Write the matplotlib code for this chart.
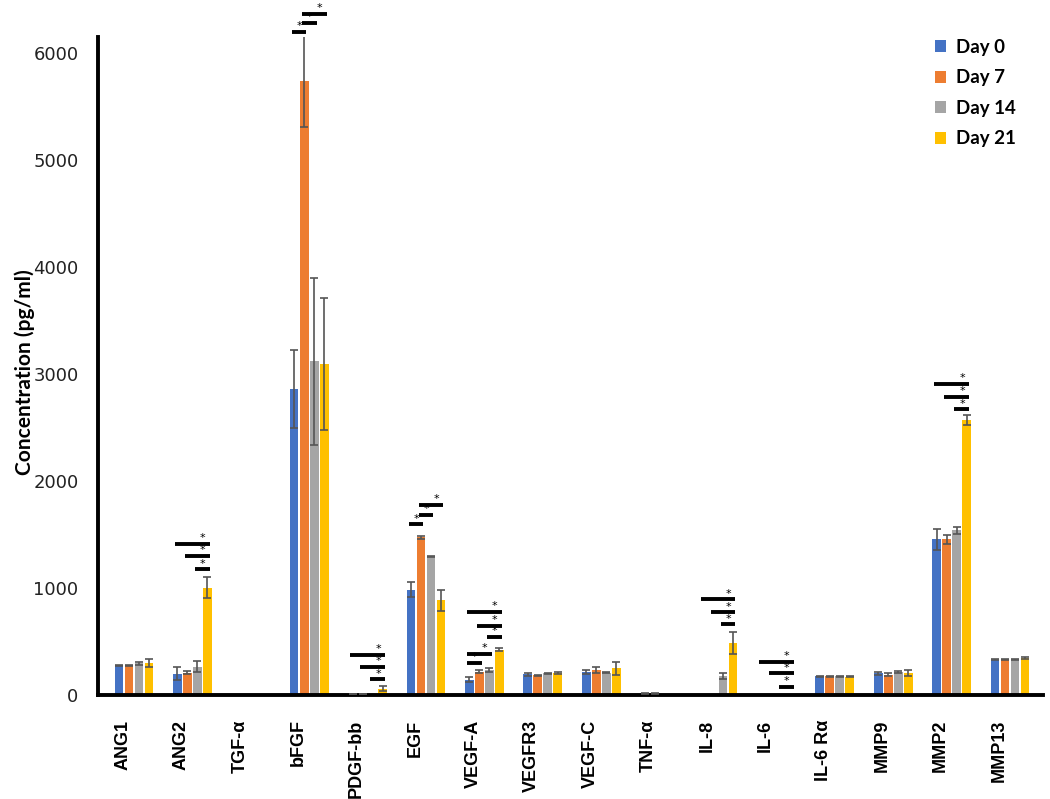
import numpy as np
import matplotlib.pyplot as plt
import matplotlib.transforms as mtransforms
from matplotlib.patches import Patch

# data
categories = ['ANG1', 'ANG2', 'TGF-α', 'bFGF', 'PDGF-bb', 'EGF', 'VEGF-A', 'VEGFR3',
              'VEGF-C', 'TNF-α', 'IL-8', 'IL-6', 'IL-6 Rα', 'MMP9', 'MMP2', 'MMP13']
series_names = ['Day 0', 'Day 7', 'Day 14', 'Day 21']

day0 = [275, 195, 0, 2860, 5, 980, 140, 188, 210, 10, 0, 0, 172, 200, 1450, 325]
day7 = [275, 205, 0, 5740, 5, 1470, 213, 182, 230, 10, 0, 0, 172, 185, 1450, 330]
day14 = [290, 260, 0, 3115, 0, 1290, 230, 198, 205, 0, 172, 0, 172, 207, 1535, 325]
day21 = [295, 1000, 0, 3090, 55, 880, 420, 198, 245, 0, 480, 0, 168, 200, 2565, 340]

err0 = [5, 60, 0, 365, 0, 70, 20, 15, 15, 3, 0, 0, 5, 15, 100, 5]
err7 = [5, 15, 0, 430, 0, 15, 15, 5, 30, 3, 0, 0, 5, 15, 45, 5]
err14 = [15, 50, 0, 785, 0, 5, 15, 5, 5, 0, 25, 0, 5, 10, 35, 5]
err21 = [40, 95, 0, 620, 25, 100, 15, 10, 60, 0, 100, 0, 5, 30, 45, 10]

# significance lines: (category, from series, to series, height)
brackets = [
    (1, 0, 3, 1408), (1, 1, 3, 1296), (1, 2, 3, 1171),
    (3, 0, 1, 6200), (3, 1, 2, 6284), (3, 1, 3, 6367),
    (4, 0, 3, 370), (4, 1, 3, 260), (4, 2, 3, 142),
    (5, 0, 1, 1592), (5, 1, 2, 1679), (5, 1, 3, 1773),
    (6, 0, 1, 298), (6, 0, 2, 379), (6, 0, 3, 775), (6, 1, 3, 644), (6, 2, 3, 541),
    (10, 0, 3, 890), (10, 1, 3, 769), (10, 2, 3, 657),
    (11, 0, 3, 307), (11, 1, 3, 198), (11, 2, 3, 73),
    (14, 0, 3, 2905), (14, 1, 3, 2786), (14, 2, 3, 2668),
]

colors = ['#4472C4', '#ED7D31', '#A5A5A5', '#FFC000']
values = [day0, day7, day14, day21]
errors = [err0, err7, err14, err21]

fig = plt.figure(figsize=(10.5, 7.99), dpi=100)
ax = fig.add_axes([98 / 1050, 1 - 694.5 / 799, (1043 - 98) / 1050, (694.5 - 37) / 799])

x = np.arange(len(categories))
step = 0.172
width = 0.15
for k in range(4):
    xs = x + (k - 1.5) * step
    v = np.array(values[k], dtype=float)
    e = np.array(errors[k], dtype=float)
    ax.bar(xs, v, width=width, color=colors[k], zorder=2)
    m = v > 0
    ax.errorbar(xs[m], v[m], yerr=e[m], fmt='none', ecolor='#555555',
                elinewidth=1.2, capsize=3, capthick=1.2, zorder=3)

# significance bars with stars
for c, a, b, h in brackets:
    x0 = c + (a - 1.5) * step - 0.04
    x1 = c + (b - 1.5) * step + 0.04
    ax.plot([x0, x1], [h, h], color='black', lw=2.8, solid_capstyle='butt',
            clip_on=False, zorder=4)
    xs = x1 - min((x1 - x0) / 2, 0.12)
    ax.annotate('*', (xs, h), xytext=(0, 0.5), textcoords='offset points',
                ha='center', va='bottom', fontsize=8, annotation_clip=False)

ax.set_xlim(-0.616, 15.565)
ax.set_ylim(0, 6150)
ax.set_yticks([0, 1000, 2000, 3000, 4000, 5000, 6000])
ax.set_xticks(x)
ax.set_xticklabels(categories, rotation=90, fontsize=13, fontweight='bold',
                   family='Liberation Sans')
ax.tick_params(axis='both', length=0)
ax.tick_params(axis='x', pad=18)
ax.tick_params(axis='y', pad=14, labelsize=13)
shift = mtransforms.ScaledTranslation(-11 / 100, 0, fig.dpi_scale_trans)
for lab in ax.get_xticklabels():
    lab.set_transform(lab.get_transform() + shift)
for lab in ax.get_yticklabels():
    lab.set_family('DejaVu Sans')
    lab.set_color('#222222')

for s in ['top', 'right']:
    ax.spines[s].set_visible(False)
for s in ['left', 'bottom']:
    ax.spines[s].set_linewidth(2.8)
    ax.spines[s].set_color('black')

ax.set_ylabel('Concentration (pg/ml)', fontsize=15, fontweight='bold', family='Lato')
ax.yaxis.set_label_coords(-63 / 945, 0.49)

handles = [Patch(facecolor=colors[k], label=series_names[k]) for k in range(4)]
fig.legend(handles=handles, loc='upper left', bbox_to_anchor=(918 / 1050, 1 - 22 / 799),
           frameon=False, handlelength=0.6, handleheight=0.6, handletextpad=0.5,
           labelspacing=0.72, prop={'family': 'Lato', 'weight': 'bold', 'size': 13.5})

fig.savefig('out.png', dpi=100)
